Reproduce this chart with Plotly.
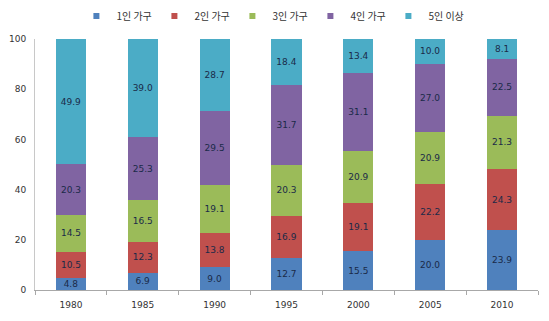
import plotly.graph_objects as go

years = ["1980", "1985", "1990", "1995", "2000", "2005", "2010"]
one = [4.8, 6.9, 9.0, 12.7, 15.5, 20.0, 23.9]
two = [10.5, 12.3, 13.8, 16.9, 19.1, 22.2, 24.3]
three = [14.5, 16.5, 19.1, 20.3, 20.9, 20.9, 21.3]
four = [20.3, 25.3, 29.5, 31.7, 31.1, 27.0, 22.5]
five = [49.9, 39.0, 28.7, 18.4, 13.4, 10.0, 8.1]

names = ["1인 가구", "2인 가구", "3인 가구", "4인 가구", "5인 이상"]
series = [one, two, three, four, five]
colors = ["#4F81BD", "#C0504D", "#9BBB59", "#8064A2", "#4BACC6"]

fig = go.Figure()
for n, s, c in zip(names, series, colors):
    fig.add_trace(go.Bar(
        x=years, y=s, name=n, marker=dict(color=c, line=dict(width=0)),
        width=0.42, text=s, texttemplate="%{y:.1f}", textposition="inside",
        insidetextanchor="middle", constraintext="none", textangle=0,
        textfont=dict(color="#1A2A48", size=9, family="DejaVu Sans"),
        showlegend=False,
    ))
# legend entries with small square swatches
for n, c in zip(names, colors):
    fig.add_trace(go.Scatter(
        x=[None], y=[None], mode="markers", name=n,
        marker=dict(symbol="square", size=6, color=c), showlegend=True,
    ))

fig.update_layout(
    barmode="stack",
    width=549, height=321,
    margin=dict(l=35, r=11, t=39, b=31),
    plot_bgcolor="white", paper_bgcolor="white",
    font=dict(family="DejaVu Sans", size=9, color="#333333"),
    legend=dict(orientation="h", x=0.47, xanchor="center", y=0.995, yref="container",
                yanchor="top", font=dict(family="Noto Sans CJK KR", size=10, color="#333333"),
                itemwidth=30, entrywidth=33, entrywidthmode="pixels",
                traceorder="normal", tracegroupgap=0),
    showlegend=True,
    uniformtext=dict(minsize=9, mode="show"),
)
fig.update_xaxes(showline=True, linecolor="#A8A8A8", ticks="outside", tickson="boundaries",
                 ticklen=4, tickcolor="#A8A8A8", showgrid=False, automargin=False,
                 tickfont=dict(size=9, color="#333333"), ticklabelstandoff=6)
fig.update_yaxes(range=[0, 100], dtick=20, showline=True, linecolor="#C8C8C8", ticks="",
                 showgrid=False, zeroline=False, ticklabelstandoff=6, automargin=False,
                 tickfont=dict(size=9, color="#333333"))

fig.write_html("out.html")
